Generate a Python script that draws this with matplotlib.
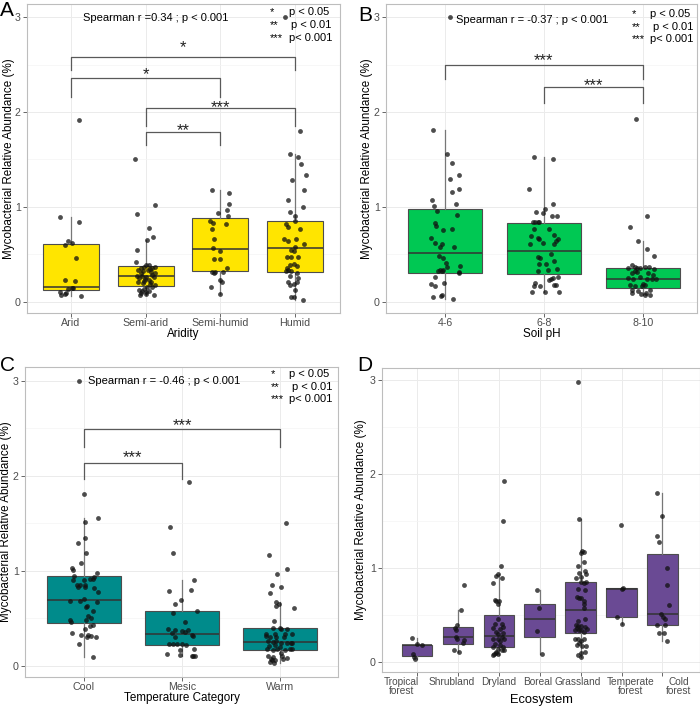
import numpy as np
import matplotlib
matplotlib.use("Agg")
import matplotlib.pyplot as plt
from matplotlib.transforms import ScaledTranslation

# ---------------- data ----------------
aridity_names = ["Arid", "Semi-arid", "Semi-humid", "Humid"]
aridity_values = [
    [1.92, 0.89, 0.84, 0.64, 0.62, 0.60, 0.46, 0.23, 0.22, 0.15, 0.15, 0.14, 0.11, 0.09, 0.07, 0.08, 0.06],
    [1.51, 1.02, 0.93, 0.78, 0.68, 0.65, 0.55, 0.42, 0.39, 0.39, 0.37, 0.355, 0.37, 0.36, 0.34, 0.34,
     0.33, 0.32, 0.30, 0.27, 0.27, 0.26, 0.26, 0.25, 0.23, 0.22, 0.21, 0.21, 0.20, 0.18, 0.16, 0.16,
     0.14, 0.13, 0.12, 0.11, 0.09, 0.07, 0.07, 0.08, 0.30, 0.28, 0.35, 0.24, 0.19, 0.12],
    [1.18, 1.15, 1.03, 0.97, 0.94, 0.91, 0.85, 0.83, 0.82, 0.77, 0.66, 0.57, 0.54, 0.45, 0.45, 0.36,
     0.32, 0.32, 0.30, 0.32, 0.23, 0.21, 0.16, 0.08],
    [3.0, 1.80, 1.56, 1.53, 1.45, 1.34, 1.28, 1.18, 1.07, 1.00, 0.95, 0.91, 0.85, 0.82, 0.79, 0.77,
     0.66, 0.64, 0.66, 0.61, 0.58, 0.55, 0.54, 0.47, 0.47, 0.47, 0.40, 0.38, 0.385, 0.355, 0.34, 0.33,
     0.33, 0.30, 0.27, 0.25, 0.21, 0.21, 0.19, 0.18, 0.13, 0.056, 0.055, 0.02],
]
aridity_jitter = [
    [0.11, -0.15, 0.11, -0.04, 0.01, -0.08, 0.07, -0.08, 0.05, 0.03, 0.01, -0.04, -0.15, -0.07, -0.13, -0.08, 0.13],
    [-0.15, 0.12, -0.12, 0.04, 0.10, 0.01, -0.12, -0.13, 0.0, 0.04, 0.12, 0.09, -0.02, -0.07, 0.03, -0.11,
     -0.04, 0.07, 0.13, -0.12, -0.05, 0.0, 0.11, -0.09, 0.04, -0.02, 0.07, -0.11, -0.04, 0.12, 0.02, 0.09,
     -0.02, -0.09, 0.04, 0.0, -0.07, 0.11, -0.08, 0.0, -0.06, 0.08, 0.05, -0.01, 0.06, -0.05],
    [-0.11, 0.12, 0.12, 0.09, -0.03, 0.10, -0.14, -0.10, 0.07, -0.11, -0.09, -0.10, -0.01, -0.09, -0.01, 0.09,
     -0.11, -0.07, -0.09, 0.03, -0.01, 0.02, -0.13, 0.0],
    [-0.13, 0.07, -0.07, 0.04, 0.08, 0.14, -0.04, 0.12, -0.10, 0.10, -0.07, 0.0, 0.0, -0.12, -0.10, 0.07,
     -0.15, -0.09, 0.01, 0.12, 0.0, -0.05, -0.02, -0.11, -0.05, 0.04, -0.02, 0.02, -0.07, -0.11, -0.09, -0.12,
     -0.05, 0.02, -0.07, 0.04, -0.10, 0.02, -0.02, -0.07, 0.0, -0.05, -0.02, 0.10],
]
aridity_q1 = [0.13, 0.17, 0.33, 0.32]
aridity_med = [0.16, 0.27, 0.56, 0.57]
aridity_q3 = [0.61, 0.38, 0.88, 0.85]
aridity_lo = [0.06, 0.07, 0.08, 0.02]
aridity_hi = [0.89, 0.65, 1.18, 1.56]
aridity_pairs = [(0, 3), (0, 2), (1, 3), (1, 2)]
aridity_bracket_y = [2.58, 2.36, 2.04, 1.79]
aridity_bracket_drop = [0.14, 0.20, 0.19, 0.14]
aridity_stars = ["*", "*", "***", "**"]

ph_names = ["4-6", "6-8", "8-10"]
ph_values = [
    [3.0, 1.81, 1.56, 1.46, 1.34, 1.29, 1.16, 1.19, 1.07, 1.01, 1.03, 0.96, 0.92, 0.83, 0.80, 0.76,
     0.77, 0.67, 0.62, 0.61, 0.575, 0.575, 0.48, 0.46, 0.41, 0.37, 0.34, 0.33, 0.33, 0.34, 0.38, 0.31,
     0.32, 0.26, 0.19, 0.17, 0.20, 0.05, 0.06, 0.07, 0.03],
    [1.53, 1.51, 1.19, 1.03, 0.976, 0.95, 0.94, 0.90, 0.905, 0.845, 0.845, 0.845, 0.84, 0.765, 0.77,
     0.705, 0.695, 0.67, 0.66, 0.66, 0.64, 0.62, 0.61, 0.61, 0.47, 0.46, 0.505, 0.435, 0.40, 0.40, 0.34,
     0.33, 0.35, 0.23, 0.25, 0.24, 0.26, 0.20, 0.17, 0.17, 0.18, 0.18, 0.11, 0.10, 0.10],
    [1.93, 0.90, 0.785, 0.645, 0.555, 0.48, 0.39, 0.37, 0.355, 0.355, 0.36, 0.37, 0.37, 0.35, 0.33,
     0.32, 0.30, 0.30, 0.28, 0.25, 0.24, 0.26, 0.24, 0.24, 0.24, 0.18, 0.17, 0.17, 0.18, 0.19, 0.13,
     0.12, 0.13, 0.09, 0.085, 0.09, 0.07, 0.07],
]
ph_jitter = [
    [0.05, -0.12, 0.02, 0.07, 0.14, 0.05, 0.07, 0.14, -0.13, -0.11, 0.11, -0.08, 0.12, -0.10, -0.09, -0.02,
     0.07, -0.14, -0.10, -0.03, -0.05, 0.09, -0.06, -0.02, 0.01, 0.02, -0.05, -0.07, -0.03, -0.02, 0.15, 0.14,
     0.14, -0.10, -0.14, -0.10, -0.01, -0.12, -0.04, -0.03, 0.08],
    [-0.10, 0.09, -0.15, 0.09, 0.01, -0.08, -0.01, 0.08, 0.13, -0.11, -0.09, -0.06, -0.05, -0.10, 0.05,
     0.10, -0.13, -0.06, -0.05, 0.14, 0.12, -0.01, -0.14, 0.10, -0.06, -0.04, 0.07, 0.10, -0.05, 0.02, 0.04,
     -0.06, 0.13, 0.05, 0.09, 0.07, 0.14, -0.09, -0.10, -0.04, 0.12, 0.10, -0.12, 0.01, 0.15],
    [-0.07, 0.04, -0.13, -0.05, 0.04, 0.11, -0.11, -0.08, -0.06, -0.15, -0.03, 0.02, 0.06, 0.11, -0.08,
     -0.06, -0.11, 0.05, 0.10, -0.15, -0.10, -0.03, 0.04, 0.09, 0.13, -0.13, -0.08, -0.01, 0.02, 0.0, -0.11,
     -0.05, 0.07, -0.11, -0.02, 0.03, 0.07, 0.02],
]
ph_q1 = [0.31, 0.29, 0.15]
ph_med = [0.52, 0.54, 0.24]
ph_q3 = [0.975, 0.83, 0.355]
ph_lo = [0.03, 0.10, 0.07]
ph_hi = [1.81, 1.53, 0.645]
ph_pairs = [(0, 2), (1, 2)]
ph_bracket_y = [2.50, 2.26]
ph_bracket_drop = [0.15, 0.16]
ph_stars = ["***", "***"]

temp_names = ["Cool", "Mesic", "Warm"]
temp_values = [
    [3.0, 1.81, 1.56, 1.52, 1.35, 1.29, 1.19, 1.08, 1.03, 1.01, 0.98, 0.94, 0.95, 0.90, 0.905, 0.915,
     0.915, 0.856, 0.85, 0.85, 0.83, 0.83, 0.78, 0.82, 0.68, 0.68, 0.71, 0.67, 0.63, 0.62, 0.58, 0.53,
     0.48, 0.46, 0.48, 0.50, 0.42, 0.43, 0.39, 0.35, 0.33, 0.33, 0.32, 0.31, 0.31, 0.23, 0.095],
    [1.94, 1.46, 1.19, 0.90, 0.79, 0.80, 0.69, 0.65, 0.56, 0.58, 0.46, 0.39, 0.375, 0.365, 0.375, 0.35,
     0.355, 0.33, 0.315, 0.31, 0.235, 0.235, 0.23, 0.23, 0.22, 0.17, 0.18, 0.13, 0.12, 0.11, 0.10, 0.11],
    [1.505, 1.165, 1.02, 0.965, 0.85, 0.83, 0.77, 0.67, 0.655, 0.63, 0.61, 0.47, 0.40, 0.40, 0.39, 0.39,
     0.34, 0.34, 0.34, 0.34, 0.32, 0.31, 0.305, 0.31, 0.26, 0.255, 0.26, 0.24, 0.24, 0.24, 0.24, 0.21,
     0.22, 0.20, 0.18, 0.17, 0.18, 0.17, 0.18, 0.18, 0.135, 0.10, 0.095, 0.078, 0.068, 0.078, 0.08, 0.11,
     0.04, 0.03, 0.06],
]
temp_jitter = [
    [-0.05, 0.0, 0.14, 0.01, 0.01, -0.06, 0.02, -0.03, -0.12, -0.11, 0.13, 0.10, -0.10, -0.11, 0.0, 0.06,
     0.09, -0.04, -0.07, 0.01, 0.01, -0.06, 0.14, 0.10, -0.14, -0.04, 0.0, 0.13, 0.03, 0.02, 0.09, 0.04,
     -0.14, -0.13, 0.02, 0.07, 0.06, 0.09, 0.01, -0.12, -0.03, 0.04, 0.07, 0.12, 0.03, -0.05, 0.09],
    [0.07, -0.12, -0.09, 0.12, -0.13, 0.09, -0.01, -0.07, -0.09, 0.15, 0.03, -0.14, -0.07, 0.0, 0.06, -0.10,
     0.03, 0.10, 0.11, -0.07, -0.13, -0.09, -0.05, 0.0, 0.04, -0.02, 0.12, -0.15, -0.02, 0.10, 0.13, 0.11],
    [0.06, -0.11, 0.07, -0.03, -0.08, 0.01, -0.10, -0.04, -0.01, -0.04, 0.14, -0.06, -0.07, 0.0, 0.01, 0.07,
     -0.14, -0.05, 0.05, 0.12, -0.14, -0.10, -0.04, 0.04, -0.12, -0.07, -0.04, 0.01, 0.07, 0.11, 0.12, -0.11,
     -0.05, 0.0, -0.13, -0.07, -0.03, 0.05, 0.10, 0.12, 0.01, -0.12, -0.07, -0.09, -0.05, 0.03, 0.07, 0.02,
     -0.10, -0.06, -0.08],
]
temp_q1 = [0.45, 0.225, 0.165]
temp_med = [0.69, 0.34, 0.25]
temp_q3 = [0.947, 0.575, 0.40]
temp_lo = [0.095, 0.10, 0.03]
temp_hi = [1.56, 0.90, 0.67]
temp_pairs = [(0, 2), (0, 1)]
temp_bracket_y = [2.49, 2.14]
temp_bracket_drop = [0.18, 0.17]
temp_stars = ["***", "***"]

eco_names = ["Tropical\nforest", "Shrubland", "Dryland", "Boreal", "Grassland",
             "Temperate\nforest", "Cold\nforest"]
eco_values = [
    [0.256, 0.195, 0.178, 0.082, 0.053, 0.029],
    [0.824, 0.558, 0.39, 0.366, 0.345, 0.267, 0.249, 0.231, 0.206, 0.125, 0.107],
    [1.93, 1.50, 1.02, 0.94, 0.917, 0.896, 0.845, 0.658, 0.65, 0.65, 0.62, 0.46, 0.40, 0.40, 0.373,
     0.356, 0.35, 0.32, 0.31, 0.30, 0.267, 0.249, 0.249, 0.24, 0.22, 0.196, 0.178, 0.16, 0.155, 0.14,
     0.125, 0.13, 0.107, 0.082, 0.082, 0.096, 0.071],
    [0.77, 0.576, 0.33, 0.089],
    [2.98, 1.52, 1.18, 1.17, 1.155, 1.066, 1.02, 0.967, 0.94, 0.95, 0.906, 0.89, 0.846, 0.842, 0.853,
     0.78, 0.77, 0.686, 0.676, 0.68, 0.65, 0.615, 0.57, 0.46, 0.44, 0.39, 0.38, 0.38, 0.373, 0.356,
     0.345, 0.35, 0.335, 0.32, 0.335, 0.249, 0.249, 0.249, 0.225, 0.20, 0.185, 0.166, 0.166, 0.107,
     0.096, 0.071, 0.053],
    [1.457, 0.775, 0.79, 0.473, 0.40],
    [1.80, 1.553, 1.34, 1.28, 1.00, 0.82, 0.61, 0.505, 0.48, 0.46, 0.39, 0.39, 0.31, 0.31, 0.224],
]
eco_jitter = [
    [-0.13, -0.01, 0.11, -0.09, -0.07, -0.05],
    [0.15, 0.07, -0.03, -0.07, -0.06, -0.05, -0.02, 0.15, 0.11, -0.10, 0.02],
    [0.13, 0.09, 0.05, -0.03, -0.06, 0.07, -0.14, -0.10, -0.06, 0.01, -0.02, -0.02, -0.10, 0.07, 0.11,
     -0.14, 0.02, -0.06, 0.11, -0.03, 0.07, 0.12, -0.14, -0.02, 0.02, -0.10, 0.02, 0.11, -0.14, -0.02,
     0.07, 0.13, -0.06, -0.11, -0.03, -0.07, -0.14],
    [-0.06, -0.03, -0.07, 0.05],
    [-0.07, -0.04, 0.04, 0.08, 0.02, 0.08, -0.06, 0.11, 0.13, -0.03, 0.02, -0.12, 0.02, 0.09, 0.13,
     -0.07, 0.11, -0.10, -0.04, 0.02, 0.07, 0.09, 0.07, 0.11, -0.06, -0.12, -0.06, 0.01, 0.11, -0.10,
     0.02, 0.15, -0.03, 0.08, -0.14, -0.06, -0.15, 0.09, 0.02, -0.03, -0.10, 0.04, 0.13, 0.11, 0.0,
     -0.07, 0.02],
    [-0.02, 0.02, 0.04, -0.12, 0.0],
    [-0.12, 0.0, -0.12, -0.08, 0.11, 0.12, 0.15, -0.03, 0.01, 0.07, -0.12, 0.07, -0.08, 0.05, 0.12],
]
eco_q1 = [0.064, 0.19, 0.16, 0.27, 0.31, 0.473, 0.39]
eco_med = [0.18, 0.27, 0.28, 0.455, 0.55, 0.775, 0.505]
eco_q3 = [0.185, 0.373, 0.50, 0.62, 0.85, 0.79, 1.145]
eco_lo = [0.029, 0.107, 0.071, 0.089, 0.053, 0.40, 0.224]
eco_hi = [0.256, 0.558, 0.94, 0.77, 1.52, 0.79, 1.80]
eco_label_nudge = [-16, -6, 0, -2, -3, 9, 16]  # px

# ---------------- figure ----------------
plt.rcParams["font.family"] = ["Liberation Sans", "DejaVu Sans"]
W, H = 700, 706
fig = plt.figure(figsize=(W / 100, H / 100), dpi=100)


def add_ax(l, t, r, b):
    return fig.add_axes([l / W, 1 - b / H, (r - l) / W, (b - t) / H])


def draw_panel(ax, names, values, jitter, q1, med, q3, lo, hi, color, xlabel, xlim, ylim):
    for sp in ax.spines.values():
        sp.set_color("#bdbdbd")
        sp.set_linewidth(0.8)
    ax.set_axisbelow(True)
    pos = np.arange(len(names))
    stats = [dict(q1=a, med=m, q3=b, whislo=w0, whishi=w1, fliers=[])
             for a, m, b, w0, w1 in zip(q1, med, q3, lo, hi)]
    ax.bxp(stats, positions=pos, widths=0.75, patch_artist=True, showfliers=False,
           showcaps=False,
           boxprops=dict(facecolor=color, edgecolor="#4d4d4d", linewidth=0.8),
           medianprops=dict(color="#333333", linewidth=1.1),
           whiskerprops=dict(color="#777777", linewidth=0.9))
    for i in pos:
        xs = i + np.asarray(jitter[i])
        ys = np.asarray(values[i])
        assert len(xs) == len(ys)
        ax.scatter(xs, ys, s=12, color="#111111", alpha=0.75, linewidths=0, zorder=3)
    ax.set_xticks(pos)
    ax.set_xticklabels(names)
    ax.set_yticks([0, 1, 2, 3])
    ax.set_yticks([0.5, 1.5, 2.5], minor=True)
    ax.grid(True, which="major", color="#ebebeb", linewidth=0.7)
    ax.grid(True, which="minor", axis="y", color="#f4f4f4", linewidth=0.5)
    ax.set_xlim(xlim)
    ax.set_ylim(ylim)
    ax.tick_params(which="major", length=3, width=0.6, color="#4d4d4d",
                   labelsize=7.7, labelcolor="#4d4d4d", pad=1.5)
    ax.tick_params(axis="x", pad=0.5)
    ax.tick_params(which="minor", length=0)
    ax.set_xlabel(xlabel, fontsize=8.4, labelpad=0)
    ax.set_ylabel("Mycobacterial Relative Abundance (%)", fontsize=8.4)


def add_brackets(ax, pairs, ys, drops, stars, star_y):
    for (a, b), y, d, s, ty in zip(pairs, ys, drops, stars, star_y):
        ax.plot([a, a, b, b], [y - d, y, y, y - d], color="#595959", linewidth=0.9, zorder=4)
        ax.text((a + b) / 2, ty, s, ha="center", va="center", fontsize=12, color="#222222")


def add_legend(ax, xs, xp, ys):
    for s, y in zip(["*", "**", "***"], ys):
        ax.text(xs, y, s, ha="left", va="center", fontsize=8)
    for p, dx, y in zip(["p < 0.05", "p < 0.01", "p< 0.001"], [0.0, 0.03, 0.0], ys):
        ax.text(xp + dx, y, p, ha="left", va="center", fontsize=8)


# A
axA = add_ax(27, 4, 340, 313)
draw_panel(axA, aridity_names, aridity_values, aridity_jitter, aridity_q1, aridity_med,
           aridity_q3, aridity_lo, aridity_hi, "#FFE500", "Aridity", (-0.59, 3.60), (-0.116, 3.137))
add_brackets(axA, aridity_pairs, aridity_bracket_y, aridity_bracket_drop, aridity_stars,
             [2.68, 2.39, 2.05, 1.80])
axA.text(0.165, 2.99, "Spearman r =0.34 ; p < 0.001", ha="left", va="center", fontsize=8)
add_legend(axA, 2.66, 2.92, [3.05, 2.92, 2.78])
axA.yaxis.set_label_coords(-0.038, 0.5)

# B
axB = add_ax(386, 4, 697, 313)
draw_panel(axB, ph_names, ph_values, ph_jitter, ph_q1, ph_med, ph_q3, ph_lo, ph_hi,
           "#00C853", "Soil pH", (-0.6, 2.55), (-0.116, 3.137))
add_brackets(axB, ph_pairs, ph_bracket_y, ph_bracket_drop, ph_stars, [2.54, 2.28])
axB.text(0.11, 2.97, "Spearman r = -0.37 ; p < 0.001", ha="left", va="center", fontsize=8)
add_legend(axB, 1.89, 2.07, [3.03, 2.89, 2.77])
axB.yaxis.set_label_coords(-0.041, 0.5)

# C
axC = add_ax(25, 367, 338, 677)
draw_panel(axC, temp_names, temp_values, temp_jitter, temp_q1, temp_med, temp_q3, temp_lo,
           temp_hi, "#008B8B", "Temperature Category", (-0.6, 2.59), (-0.116, 3.147))
add_brackets(axC, temp_pairs, temp_bracket_y, temp_bracket_drop, temp_stars, [2.53, 2.19])
axC.text(0.04, 3.0, "Spearman r = -0.46 ; p < 0.001", ha="left", va="center", fontsize=8)
add_legend(axC, 1.90, 2.09, [3.07, 2.94, 2.81])
axC.yaxis.set_label_coords(-0.04, 0.5)

# D
axD = add_ax(382, 368, 700, 672)
draw_panel(axD, eco_names, eco_values, eco_jitter, eco_q1, eco_med, eco_q3, eco_lo, eco_hi,
           "#6A4A94", "Ecosystem", (-0.86, 6.92), (-0.107, 3.128))
axD.tick_params(axis="x", pad=0.5, labelsize=7.3)
for lab, nudge in zip(axD.get_xticklabels(), eco_label_nudge):
    lab.set_transform(lab.get_transform() + ScaledTranslation(nudge / 100, 0, fig.dpi_scale_trans))
    lab.set_linespacing(0.95)
axD.set_xlabel("Ecosystem", fontsize=9.3, labelpad=-1.5)
axD.yaxis.set_label_coords(-0.046, 0.5)

# panel letters
for letter, x, y in [("A", 0, 1), ("B", 358, 6), ("C", 0, 356), ("D", 357, 356)]:
    fig.text(x / W, 1 - y / H, letter, fontsize=15, ha="left", va="top")

fig.savefig("out.png", dpi=100)
